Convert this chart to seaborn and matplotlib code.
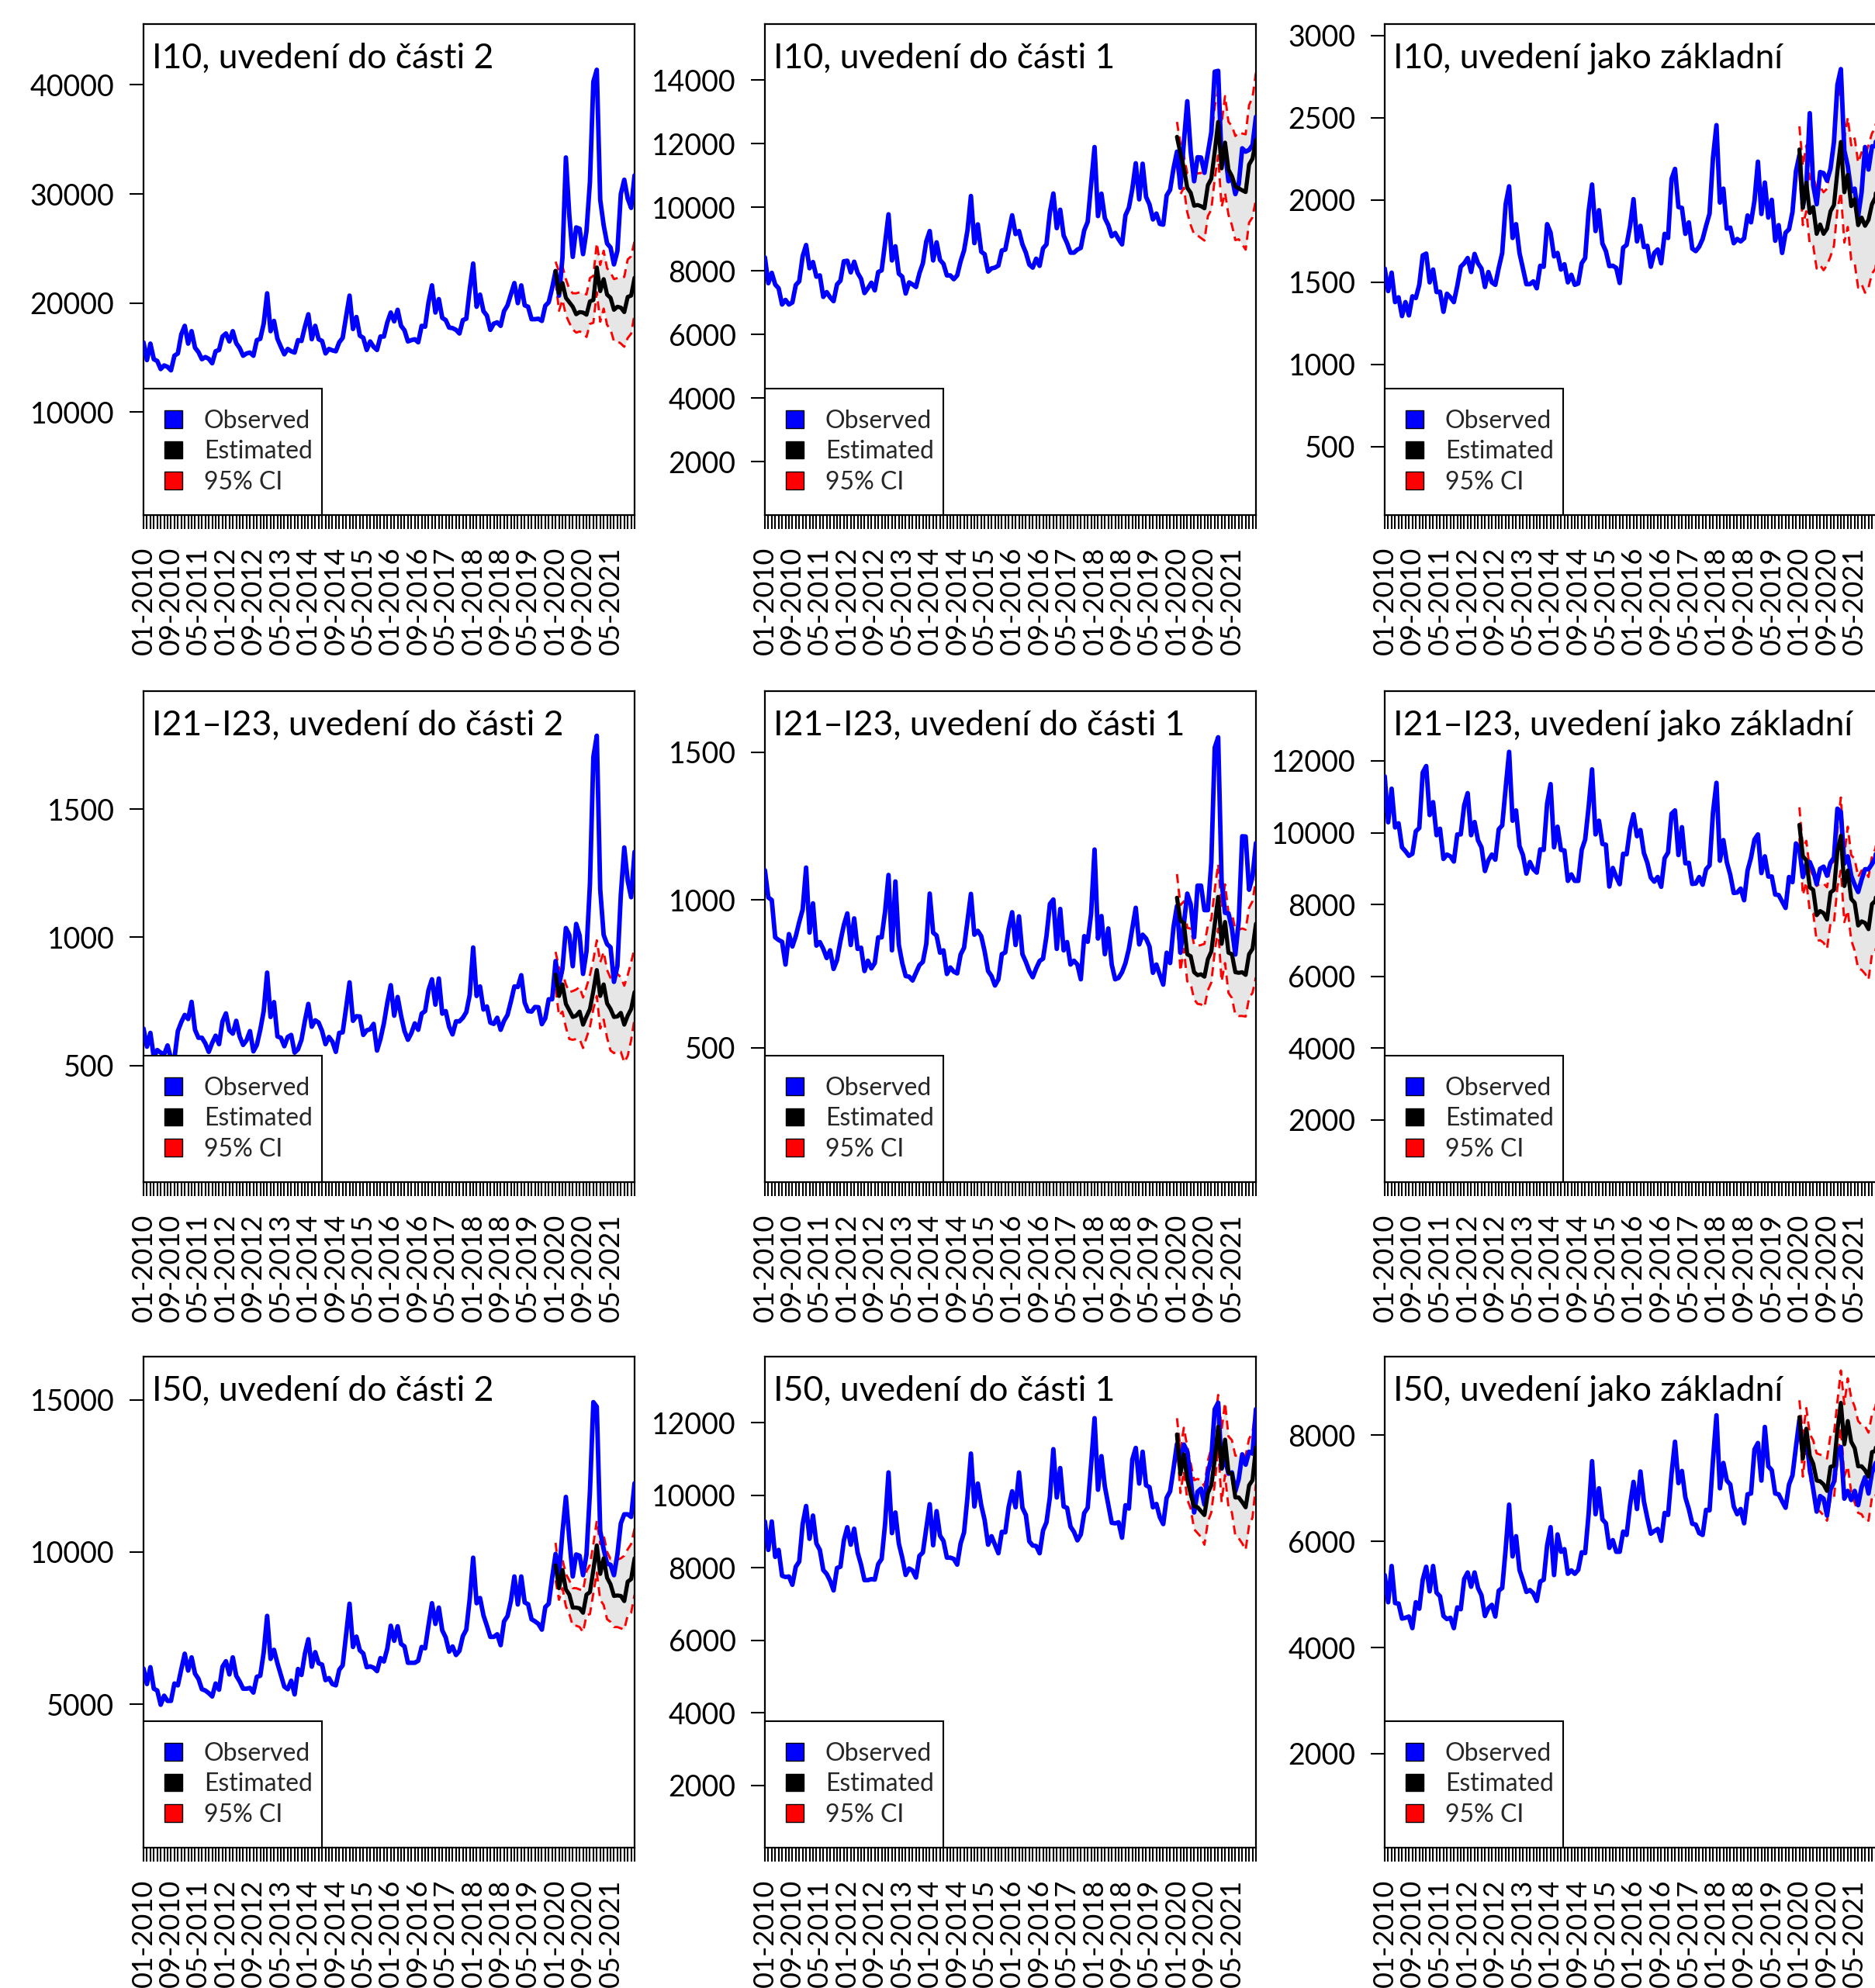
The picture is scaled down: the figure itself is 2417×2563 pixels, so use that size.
import numpy as np
import pandas as pd
import matplotlib
matplotlib.use('Agg')
import matplotlib.pyplot as plt
import seaborn as sns
from matplotlib.patches import Patch

# Mesicni pocty 01-2010 .. 12-2021, odhad (model) od 01-2020
# I10, uvedeni do casti 2
obs_i10_p2 = [16400, 14780, 16290, 14860, 14700, 13960, 14290, 14160, 13840, 15180, 15390, 17140,
              17920, 16290, 17430, 15920, 15510, 14860, 15060, 14900, 14490, 15590, 15710, 16940,
              17220, 16490, 17430, 16330, 15880, 15180, 15390, 15470, 15180, 16610, 16730, 18120,
              20900, 17430, 18370, 16730, 16000, 15310, 15800, 15590, 15470, 16610, 16530, 17840,
              18980, 16690, 17920, 16690, 16530, 15390, 15800, 15670, 15590, 16410, 16820, 18780,
              20690, 17630, 18730, 17020, 16820, 15710, 16490, 16000, 15710, 16940, 16940, 18240,
              19140, 18330, 19390, 17920, 17510, 16490, 16610, 16690, 16410, 17920, 17840, 20080,
              21630, 19140, 20370, 18650, 18450, 17760, 17710, 17550, 17220, 18450, 18570, 21310,
              23630, 19670, 20780, 19270, 18860, 17550, 18120, 18240, 17920, 19270, 19800, 20820,
              21840, 20000, 21630, 19800, 19670, 18530, 18530, 18570, 18370, 19760, 20080, 21390,
              22940, 20690, 24160, 33350, 28040, 24240, 26940, 26820, 24490, 26610, 31100, 40290,
              41390, 29470, 27140, 25470, 25100, 23550, 24780, 30000, 31310, 29590, 28730, 31710]
est_i10_p2 = [22940, 20900, 21840, 20490, 20080, 19670, 18980, 19180, 19140, 18940, 20160, 20290,
              23270, 21100, 22200, 20780, 20490, 19390, 19670, 19590, 19180, 20570, 20690, 22330]
hi_i10_p2 = [23800, 22900, 23400, 22200, 21300, 20900, 20900, 21000, 20900, 20800, 22300, 22500,
             25500, 23500, 24800, 23200, 22800, 22200, 22300, 22400, 22400, 24000, 24300, 25700]
lo_i10_p2 = [22000, 19300, 20300, 18900, 18200, 17600, 17300, 17400, 17300, 16900, 18100, 18200,
             21000, 18300, 19500, 18000, 17600, 16500, 16500, 16300, 16000, 16800, 17200, 19000]

# I10, uvedeni do casti 1
obs_i10_p1 = [8420, 7610, 7935, 7570, 7450, 6940, 7085, 6940, 7005, 7555, 7670, 8460,
              8810, 8080, 8275, 7815, 7855, 7180, 7330, 7165, 7045, 7570, 7690, 8300,
              8315, 7950, 8285, 7935, 7750, 7300, 7450, 7625, 7385, 7960, 8015, 8870,
              9775, 8325, 8770, 7910, 7815, 7285, 7635, 7570, 7490, 7920, 8235, 8925,
              9250, 8325, 8895, 8340, 8220, 7855, 7855, 7735, 7855, 8300, 8640, 9275,
              10350, 8870, 9460, 8600, 8520, 7975, 8075, 8100, 8165, 8640, 8665, 9210,
              9745, 9155, 9250, 8830, 8570, 8195, 8100, 8380, 8155, 8705, 8830, 9840,
              10430, 9340, 9920, 9110, 8870, 8570, 8570, 8665, 8720, 9275, 9540, 10730,
              11890, 9720, 10425, 9655, 9435, 9085, 9190, 8990, 8830, 9745, 9985, 10570,
              11380, 10245, 11365, 10325, 10085, 9615, 9800, 9475, 9450, 10370, 10545, 11220,
              11745, 10610, 12030, 13330, 11745, 10815, 11570, 11560, 11080, 11705, 12355, 14260,
              14285, 11420, 11745, 10815, 10935, 10410, 10735, 11850, 11745, 11800, 11950, 12840]
est_i10_p1 = [12210, 11700, 11220, 10610, 10450, 10045, 10070, 10030, 9965, 10690, 10895, 11745,
              12680, 11220, 12030, 11180, 10975, 10650, 10590, 10530, 10475, 11340, 11525, 12110]
hi_i10_p1 = [12680, 12000, 11620, 11060, 11020, 11060, 11060, 11075, 11100, 11625, 12190, 13160,
             13690, 12640, 13490, 12680, 12555, 12235, 12355, 12315, 12290, 13205, 13450, 14220]
lo_i10_p1 = [11300, 10400, 10610, 9840, 9435, 9150, 9110, 9030, 8950, 9720, 9920, 10895,
             11625, 10005, 10450, 9760, 9435, 8965, 8990, 8830, 8665, 9515, 9680, 10245]

# I10, uvedeni jako zakladni
obs_i10_base = [1582, 1445, 1557, 1378, 1407, 1293, 1378, 1297, 1413, 1403, 1483, 1662,
                1673, 1498, 1576, 1439, 1441, 1319, 1429, 1407, 1378, 1477, 1593, 1614,
                1646, 1561, 1671, 1614, 1582, 1470, 1561, 1498, 1483, 1586, 1677, 1973,
                2082, 1768, 1852, 1677, 1582, 1487, 1487, 1504, 1462, 1599, 1593, 1852,
                1800, 1656, 1677, 1576, 1608, 1498, 1544, 1483, 1491, 1614, 1646, 1930,
                2093, 1810, 1937, 1734, 1688, 1597, 1599, 1586, 1494, 1709, 1726, 1840,
                2004, 1747, 1842, 1713, 1720, 1593, 1677, 1698, 1614, 1793, 1768, 2127,
                2188, 1956, 1951, 1793, 1863, 1703, 1688, 1715, 1762, 1842, 1916, 2257,
                2454, 1983, 2068, 1825, 1831, 1736, 1762, 1747, 1766, 1905, 1863, 1994,
                2232, 1914, 2105, 1892, 2000, 1751, 1846, 1677, 1800, 1821, 1926, 2173,
                2272, 1958, 2078, 2527, 2089, 1973, 2169, 2162, 2116, 2190, 2352, 2700,
                2795, 2300, 2205, 2051, 2068, 1899, 2046, 2321, 2184, 2325, 2327, 2584]
est_i10_base = [2306, 1951, 2105, 1920, 1956, 1793, 1850, 1793, 1825, 1930, 1968, 2173,
                2352, 2046, 2152, 1962, 2004, 1846, 1892, 1842, 1878, 1973, 2015, 2257]
hi_i10_base = [2447, 2205, 2331, 2125, 2141, 2068, 2078, 2046, 2068, 2205, 2342, 2605,
               2690, 2373, 2500, 2331, 2373, 2226, 2289, 2268, 2331, 2405, 2437, 2700]
lo_i10_base = [2162, 1846, 1930, 1730, 1720, 1582, 1603, 1572, 1603, 1656, 1720, 1941,
               2046, 1740, 1835, 1635, 1614, 1466, 1487, 1435, 1466, 1551, 1582, 1846]

# I21-I23, uvedeni do casti 2
obs_i21_p2 = [644, 573, 627, 532, 560, 550, 543, 578, 527, 527, 634, 669,
              697, 681, 748, 639, 608, 608, 586, 553, 588, 616, 583, 672,
              703, 637, 624, 674, 613, 580, 598, 634, 555, 580, 639, 712,
              862, 689, 747, 613, 608, 575, 611, 619, 550, 563, 600, 674,
              740, 651, 676, 667, 634, 583, 611, 593, 553, 627, 629, 725,
              824, 674, 692, 691, 619, 637, 641, 662, 558, 603, 664, 745,
              813, 694, 767, 694, 634, 600, 626, 664, 639, 702, 712, 794,
              836, 737, 839, 702, 712, 651, 621, 672, 672, 686, 708, 776,
              960, 771, 808, 718, 730, 667, 662, 686, 639, 674, 697, 750,
              808, 806, 852, 745, 712, 710, 728, 727, 661, 684, 758, 758,
              907, 816, 877, 1036, 1009, 887, 1052, 1007, 857, 945, 1206, 1703,
              1786, 1186, 1009, 973, 961, 826, 887, 1166, 1350, 1221, 1156, 1333]
est_i21_p2 = [854, 771, 816, 740, 715, 689, 694, 710, 659, 691, 720, 791,
              872, 771, 816, 742, 720, 689, 691, 705, 659, 694, 720, 786]
hi_i21_p2 = [943, 880, 862, 816, 786, 790, 796, 806, 765, 806, 852, 912,
             988, 902, 943, 872, 841, 833, 857, 844, 811, 852, 902, 958]
lo_i21_p2 = [800, 694, 710, 649, 603, 600, 603, 603, 568, 608, 649, 720,
             771, 644, 679, 608, 558, 548, 556, 553, 512, 537, 598, 684]

# I21-I23, uvedeni do casti 1
obs_i21_p1 = [1100, 1008, 999, 873, 864, 858, 781, 884, 842, 877, 925, 967,
              1109, 889, 988, 845, 857, 834, 803, 829, 766, 796, 860, 915,
              954, 847, 937, 834, 838, 759, 794, 768, 786, 873, 873, 960,
              1084, 829, 1062, 848, 786, 742, 740, 727, 753, 779, 790, 851,
              1021, 889, 879, 821, 829, 749, 771, 757, 751, 815, 838, 930,
              1020, 882, 895, 877, 825, 759, 742, 710, 731, 816, 822, 903,
              958, 847, 944, 816, 790, 759, 738, 768, 793, 801, 877, 986,
              1001, 834, 969, 829, 857, 781, 794, 781, 731, 877, 858, 953,
              1170, 869, 945, 816, 903, 781, 731, 736, 755, 786, 834, 903,
              973, 849, 882, 869, 842, 753, 781, 746, 713, 821, 786, 908,
              979, 821, 917, 1021, 985, 873, 1048, 1048, 965, 965, 1126, 1515,
              1550, 1061, 956, 954, 903, 815, 930, 1215, 1214, 1034, 1078, 1192]
est_i21_p1 = [1007, 930, 921, 816, 809, 755, 745, 748, 740, 799, 825, 917,
              1010, 851, 925, 821, 816, 755, 753, 755, 746, 816, 834, 919]
hi_i21_p1 = [1087, 982, 995, 905, 903, 847, 844, 847, 851, 912, 934, 1034,
             1121, 973, 1052, 956, 954, 899, 899, 903, 899, 973, 995, 1069]
lo_i21_p1 = [947, 759, 834, 724, 716, 663, 648, 646, 637, 694, 720, 825,
             903, 724, 786, 685, 668, 611, 607, 607, 605, 668, 685, 738]

# I21-I23, uvedeni jako zakladni
obs_i21_base = [11569, 10290, 11224, 10146, 10261, 9593, 9485, 9355, 9413, 10038, 10131, 11677,
                11856, 10491, 10850, 9930, 10110, 9269, 9391, 9341, 9197, 9952, 9952, 10764,
                11102, 9930, 10297, 9787, 9593, 8932, 9233, 9391, 9248, 10096, 10203, 11245,
                12252, 10333, 10620, 9628, 9377, 8860, 9183, 8982, 8888, 9535, 9521, 10814,
                11353, 9593, 10167, 9521, 9506, 8658, 8838, 8658, 8658, 9521, 9808, 10706,
                11763, 9952, 10333, 9686, 9664, 8500, 9018, 8766, 8565, 9413, 9398, 10110,
                10513, 9902, 10074, 9435, 9162, 8752, 8637, 8766, 8493, 9291, 9449, 10527,
                10620, 9377, 10153, 9147, 9162, 8572, 8586, 8766, 8551, 8982, 9090, 10563,
                11389, 9219, 9794, 9176, 8824, 8321, 8335, 8443, 8119, 8946, 9305, 9808,
                9952, 8875, 9341, 8780, 8780, 8277, 8263, 8083, 7904, 8766, 8622, 9700,
                9557, 8766, 9126, 9183, 8946, 8565, 8996, 9054, 8802, 9162, 9305, 10670,
                10577, 9140, 9341, 8802, 8551, 8349, 8694, 8982, 8982, 9126, 9300, 10300]
est_i21_base = [10218, 9341, 9233, 8479, 8407, 7703, 7818, 7760, 7580, 8335, 8407, 9485,
                9916, 8515, 8946, 8155, 8047, 7415, 7530, 7487, 7314, 8011, 8105, 8982]
hi_i21_base = [10706, 9593, 9772, 8982, 8802, 8515, 8587, 8587, 8479, 9126, 9197, 10096,
               10980, 9377, 10167, 9377, 9269, 8766, 8946, 8946, 8766, 9341, 9557, 10419]
lo_i21_base = [9844, 8263, 8622, 7832, 7760, 6984, 7006, 6934, 6768, 7473, 7487, 8479,
               8946, 7509, 7832, 7006, 6718, 6215, 6179, 6071, 5906, 6610, 6697, 7545]

# I50, uvedeni do casti 2
obs_i50_p2 = [6174, 5664, 6217, 5511, 5451, 4983, 5281, 5111, 5111, 5681, 5621, 6149,
              6660, 6106, 6540, 6004, 5834, 5494, 5451, 5366, 5255, 5681, 5477, 6234,
              6413, 5979, 6540, 5936, 5749, 5511, 5511, 5536, 5383, 5902, 5936, 6702,
              7902, 6489, 6787, 6345, 5962, 5579, 5494, 5774, 5323, 6157, 5962, 6660,
              7136, 6234, 6711, 6345, 6302, 5791, 5860, 5664, 5621, 6132, 6277, 7281,
              8302, 6881, 7221, 6770, 6668, 6217, 6243, 6200, 6089, 6515, 6404, 6830,
              7579, 7085, 7562, 6983, 6898, 6362, 6362, 6362, 6430, 6881, 6838, 7596,
              8319, 7638, 8174, 7426, 7196, 6728, 6898, 6617, 6753, 7238, 7451, 8472,
              9813, 8319, 8489, 7919, 7579, 7213, 7213, 7298, 6940, 7723, 7894, 8404,
              9196, 8277, 9196, 8345, 8285, 7791, 7723, 7638, 7451, 8191, 8302, 9153,
              9936, 9281, 10643, 11809, 10430, 9196, 9919, 9877, 9238, 9919, 11962, 14923,
              14770, 10685, 10089, 9621, 9579, 9238, 9919, 10940, 11238, 11238, 11153, 12260]
est_i50_p2 = [9562, 8813, 9409, 8770, 8600, 8174, 8174, 8149, 8004, 8600, 8685, 9409,
              10217, 9281, 9792, 9153, 8940, 8557, 8574, 8557, 8387, 9026, 9111, 9792]
hi_i50_p2 = [10302, 9323, 9749, 9281, 9068, 8813, 8813, 8770, 8728, 9366, 9579, 10260,
             11025, 10260, 10557, 10004, 9766, 9749, 9749, 9792, 9877, 10089, 10260, 10770]
lo_i50_p2 = [9068, 8430, 8813, 8217, 7962, 7579, 7579, 7536, 7366, 7919, 7962, 8643,
             9323, 8430, 8259, 7791, 7706, 7536, 7536, 7494, 7451, 7919, 8004, 8600]

# I50, uvedeni do casti 1
obs_i50_p1 = [9274, 8491, 9274, 8299, 8491, 7779, 7744, 7758, 7530, 8028, 8171, 9203,
              9701, 8797, 9438, 8669, 8491, 7936, 7829, 7637, 7374, 7993, 8028, 8754,
              9117, 8634, 9075, 8420, 8085, 7658, 7658, 7687, 7673, 8100, 8242, 9203,
              10626, 8954, 9523, 8669, 8278, 7801, 7979, 7922, 7730, 8327, 8420, 9082,
              9751, 8619, 9559, 8883, 8740, 8278, 8278, 8242, 8085, 8669, 8975, 9950,
              11146, 9687, 10320, 9722, 9310, 8634, 8868, 8634, 8399, 8989, 8975, 9680,
              10107, 9665, 10626, 9651, 9452, 8726, 8612, 8598, 8399, 9025, 9253, 9950,
              11267, 9936, 10747, 9687, 9651, 9132, 8989, 8754, 8918, 9509, 9651, 10840,
              12121, 10149, 11075, 10235, 9737, 9238, 9224, 9253, 8826, 9722, 9630, 10982,
              11303, 10320, 11196, 10270, 10221, 9665, 9758, 9395, 9203, 9929, 10107, 10733,
              11409, 10911, 11395, 11196, 10448, 9523, 10093, 10178, 9737, 10626, 11018, 12370,
              12548, 10733, 11018, 10591, 10626, 10107, 10448, 11125, 10840, 11196, 11146, 12370]
est_i50_p1 = [11673, 10577, 11125, 10448, 10021, 9701, 9665, 9559, 9452, 10057, 10270, 10982,
              11886, 10733, 11530, 10626, 10591, 9936, 9936, 9808, 9665, 10270, 10413, 11317]
hi_i50_p1 = [12121, 11267, 11858, 11338, 10875, 10413, 10448, 10413, 10235, 10947, 11303, 11979,
             12762, 11801, 12548, 11623, 11516, 11089, 11089, 11053, 11089, 11552, 11730, 12441]
lo_i50_p1 = [11445, 10057, 10662, 9879, 9630, 9061, 8954, 8847, 8634, 9274, 9523, 10306,
             11303, 9808, 10555, 9665, 9523, 8883, 8812, 8669, 8491, 9167, 9381, 10306]

# I50, uvedeni jako zakladni
obs_i50_base = [5366, 4854, 5537, 4839, 4829, 4546, 4561, 4585, 4366, 4854, 4732, 5278,
                5522, 5059, 5537, 5034, 4966, 4595, 4537, 4561, 4366, 4756, 4722, 5293,
                5415, 5146, 5415, 5122, 4985, 4595, 4741, 4805, 4585, 5073, 5122, 5854,
                6693, 5717, 6098, 5463, 5268, 5049, 5083, 5024, 4878, 5244, 5278, 5927,
                6268, 5366, 6132, 5805, 5854, 5390, 5454, 5390, 5463, 5795, 5780, 6512,
                7512, 6512, 7000, 6415, 6341, 5878, 6024, 5805, 5805, 6185, 6122, 6683,
                7122, 6610, 7317, 6756, 6439, 6146, 6195, 6234, 6010, 6537, 6498, 7268,
                7878, 7098, 7327, 6829, 6610, 6332, 6317, 6156, 6122, 6595, 6585, 7537,
                8376, 7000, 7478, 7146, 7073, 6659, 6512, 6610, 6341, 6888, 6902, 7732,
                7854, 7146, 8156, 7415, 7341, 6902, 6888, 6756, 6634, 7073, 7244, 7780,
                8293, 7668, 7976, 7366, 6985, 6561, 6854, 6805, 6488, 6976, 7122, 7683,
                7780, 6805, 6951, 6780, 6951, 6683, 7024, 7210, 6902, 7293, 7463, 7650]
est_i50_base = [8341, 7561, 8122, 7610, 7463, 7146, 7132, 7073, 6951, 7405, 7424, 8098,
                8610, 7829, 8268, 7878, 7756, 7415, 7415, 7341, 7220, 7683, 7707, 8293]
hi_i50_base = [8659, 8024, 8512, 8024, 7902, 7659, 7634, 7610, 7561, 8000, 8024, 8634,
               9220, 8585, 9073, 8707, 8537, 8268, 8195, 8171, 8049, 8390, 8537, 9073]
lo_i50_base = [8195, 7220, 7805, 7171, 7024, 6610, 6561, 6488, 6390, 6805, 6805, 7512,
               8146, 7220, 7415, 6927, 6732, 6537, 6512, 6390, 6390, 6829, 6829, 7415]

titles = ['I10, uvedení do části 2', 'I10, uvedení do části 1', 'I10, uvedení jako základní',
          'I21–I23, uvedení do části 2', 'I21–I23, uvedení do části 1', 'I21–I23, uvedení jako základní',
          'I50, uvedení do části 2', 'I50, uvedení do části 1', 'I50, uvedení jako základní']
months = [f'{m:02d}-{y}' for y in range(2010, 2022) for m in range(1, 13)]
fc_start = months.index('01-2020')

series = [
    (obs_i10_p2, est_i10_p2, lo_i10_p2, hi_i10_p2),
    (obs_i10_p1, est_i10_p1, lo_i10_p1, hi_i10_p1),
    (obs_i10_base, est_i10_base, lo_i10_base, hi_i10_base),
    (obs_i21_p2, est_i21_p2, lo_i21_p2, hi_i21_p2),
    (obs_i21_p1, est_i21_p1, lo_i21_p1, hi_i21_p1),
    (obs_i21_base, est_i21_base, lo_i21_base, hi_i21_base),
    (obs_i50_p2, est_i50_p2, lo_i50_p2, hi_i50_p2),
    (obs_i50_p1, est_i50_p1, lo_i50_p1, hi_i50_p1),
    (obs_i50_base, est_i50_base, lo_i50_base, hi_i50_base),
]

# rozsahy os a znacky na ose y (jak v puvodnim grafu)
ylims = [(580, 45580), (323, 15756), (83, 3069),
         (45, 1960), (45, 1706), (269, 13943),
         (292, 16417), (287, 13818), (232, 9481)]
yticks = [[10000, 20000, 30000, 40000], list(range(2000, 14001, 2000)), list(range(500, 3001, 500)),
          [500, 1000, 1500], [500, 1000, 1500], list(range(2000, 12001, 2000)),
          [5000, 10000, 15000], list(range(2000, 12001, 2000)), list(range(2000, 8001, 2000))]

sns.set_theme(style='white')
plt.rcParams['font.family'] = ['Lato', 'DejaVu Sans']

W, H = 2417, 2563
fig = plt.figure(figsize=(W / 100, H / 100), dpi=100)
lefts = [185, 986, 1785]
widths = [633, 633, 637]   # treti sloupec je vpravo oriznuty
tops = [31, 891, 1749]
size = 633

t = np.arange(len(months))
xlabels = [m if i % 8 == 0 else '' for i, m in enumerate(months)]

for k, (obs, est, lo, hi) in enumerate(series):
    r, c = divmod(k, 3)
    ax = fig.add_axes([lefts[c] / W, 1 - (tops[r] + size) / H, widths[c] / W, size / H])

    df_obs = pd.DataFrame({'t': t, 'value': obs})
    df_fc = pd.DataFrame({'t': t[fc_start:], 'est': est, 'lo': lo, 'hi': hi})

    ax.fill_between(df_fc['t'], df_fc['lo'], df_fc['hi'], color='#e6e6e6', lw=0, zorder=1)
    sns.lineplot(data=df_fc, x='t', y='lo', ax=ax, color='red', lw=2.1, linestyle=(0, (4, 2.5)), errorbar=None, zorder=2)
    sns.lineplot(data=df_fc, x='t', y='hi', ax=ax, color='red', lw=2.1, linestyle=(0, (4, 2.5)), errorbar=None, zorder=2)
    sns.lineplot(data=df_obs, x='t', y='value', ax=ax, color='blue', lw=4.2, errorbar=None, zorder=3)
    sns.lineplot(data=df_fc, x='t', y='est', ax=ax, color='black', lw=3.8, errorbar=None, zorder=4)

    ax.set_xlim(0, len(months) - 1)
    ax.set_ylim(*ylims[k])
    ax.set_xticks(t)
    ax.set_xticklabels(xlabels, rotation=90)
    ax.set_yticks(yticks[k])
    ax.set_yticklabels([str(v) for v in yticks[k]])
    ax.set_xlabel('')
    ax.set_ylabel('')
    ax.tick_params(axis='both', direction='out', length=13, width=1.5, color='black',
                   labelcolor='black', left=True, bottom=True)
    ax.tick_params(axis='x', labelsize=26, pad=16)
    ax.tick_params(axis='y', labelsize=27, pad=14)
    for s in ax.spines.values():
        s.set_color('black')
        s.set_linewidth(1.6)

    ax.text(0.017, 0.962, titles[k], transform=ax.transAxes, fontsize=32,
            ha='left', va='top', color='black')

    handles = [Patch(facecolor='blue', edgecolor='black', lw=1),
               Patch(facecolor='black', edgecolor='black', lw=1),
               Patch(facecolor='red', edgecolor='black', lw=1)]
    leg_w = 230 / widths[c]
    leg = ax.legend(handles, ['Observed', 'Estimated', '95% CI'], loc='lower left',
                    bbox_to_anchor=(0, 0, leg_w, 1), mode='expand', borderaxespad=0,
                    fancybox=False, framealpha=1, edgecolor='black', fontsize=23,
                    handlelength=0.72, handleheight=0.72, handletextpad=0.87,
                    labelspacing=0.3, borderpad=0.85)
    leg.get_frame().set_linewidth(1.5)
    leg.set_zorder(10)

fig.savefig('out.png', dpi=100)
